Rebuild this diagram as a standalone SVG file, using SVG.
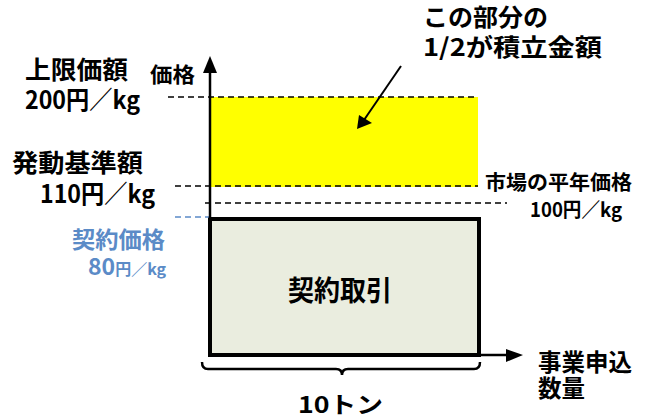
<svg xmlns="http://www.w3.org/2000/svg" width="648" height="416" viewBox="0 0 648 416">
<style>
text{font-family:"Noto Sans CJK JP","Noto Sans",sans-serif;font-weight:bold;fill:#000}
.b{fill:#5B8BC7}
.d{stroke:#000;stroke-width:1.5;stroke-dasharray:6 4;fill:none}
.db{stroke:#5B8BC7;stroke-width:1.5;stroke-dasharray:6 4;fill:none}
</style>
<rect width="648" height="416" fill="#fff"/>
<g id="yellow-area"><rect x="210" y="97" width="268" height="90" fill="#FFFF00"/></g>
<g id="contract-box">
<rect x="210" y="219" width="269" height="136" fill="#EAEDDF" stroke="#000" stroke-width="4"/>
<text x="288" y="301" font-size="28" textLength="104" lengthAdjust="spacingAndGlyphs">契約取引</text>
</g>
<g id="connectors">
<line class="d" x1="168" y1="97" x2="478" y2="97"/>
<line class="d" x1="175" y1="186" x2="478" y2="186"/>
<line class="d" x1="205" y1="203" x2="507" y2="203"/>
<line class="db" x1="175" y1="217" x2="209" y2="217"/>
<line x1="210" y1="355" x2="210" y2="71" stroke="#000" stroke-width="2.5"/>
<polygon points="210,56 203,73 217,73" fill="#000"/>
<line x1="478" y1="355" x2="507" y2="355" stroke="#000" stroke-width="2.5"/>
<polygon points="523,355 506,349 506,362" fill="#000"/>
<line x1="401" y1="66" x2="364" y2="120" stroke="#000" stroke-width="2"/>
<polygon points="357,129 359,115 372,123" fill="#000"/>
<path d="M202,362 Q202,369 208,369 L336,369 Q342,369 342,375 Q342,369 348,369 L474,369 Q480,369 480,362" fill="none" stroke="#000" stroke-width="2.5"/>
</g>
<g id="label-y-axis"><text x="150" y="82" font-size="21" textLength="45" lengthAdjust="spacingAndGlyphs">価格</text></g>
<g id="label-upper">
<text x="25" y="79" font-size="25" textLength="103" lengthAdjust="spacingAndGlyphs">上限価額</text>
<text x="25" y="109" font-size="25" textLength="115" lengthAdjust="spacingAndGlyphs">200円／kg</text>
</g>
<g id="label-trigger">
<text x="12" y="172" font-size="25" textLength="131" lengthAdjust="spacingAndGlyphs">発動基準額</text>
<text x="40" y="203" font-size="25" textLength="115" lengthAdjust="spacingAndGlyphs">110円／kg</text>
</g>
<g id="label-contract">
<text class="b" x="72" y="248" font-size="23" textLength="93" lengthAdjust="spacingAndGlyphs">契約価格</text>
<text class="b" x="88" y="275" font-size="23">80<tspan font-size="16">円／kg</tspan></text>
</g>
<g id="label-market">
<text x="485" y="190" font-size="20" textLength="147" lengthAdjust="spacingAndGlyphs">市場の平年価格</text>
<text x="530" y="217" font-size="20" textLength="92" lengthAdjust="spacingAndGlyphs">100円／kg</text>
</g>
<g id="label-reserve">
<text x="423" y="26" font-size="24" textLength="125" lengthAdjust="spacingAndGlyphs">この部分の</text>
<text x="423" y="56" font-size="24" textLength="179" lengthAdjust="spacingAndGlyphs">1/2が積立金額</text>
</g>
<g id="label-x-axis">
<text x="538" y="371" font-size="24" textLength="94" lengthAdjust="spacingAndGlyphs">事業申込</text>
<text x="538" y="397" font-size="24" textLength="47" lengthAdjust="spacingAndGlyphs">数量</text>
</g>
<g id="label-quantity"><text x="298" y="413" font-size="23" textLength="85" lengthAdjust="spacingAndGlyphs">10トン</text></g>
</svg>
